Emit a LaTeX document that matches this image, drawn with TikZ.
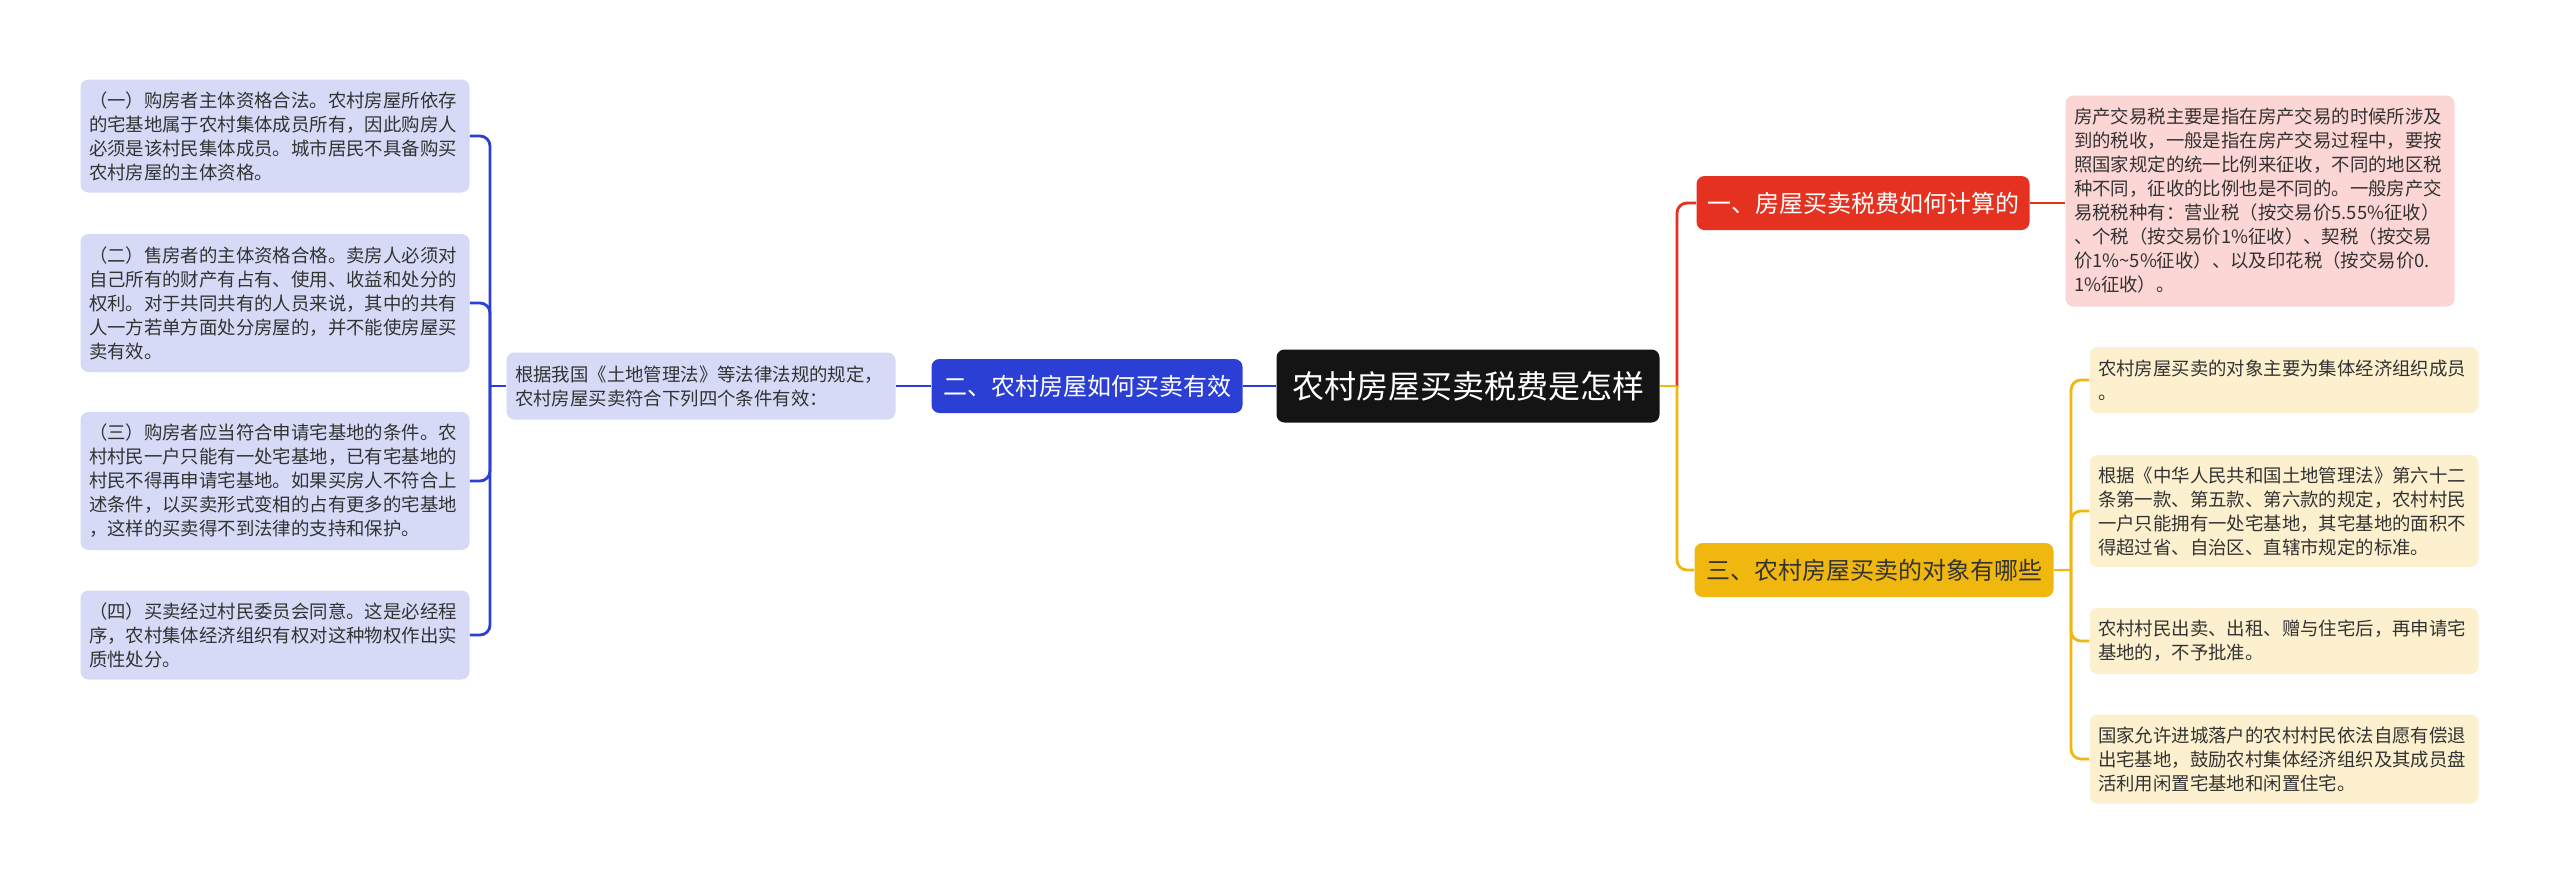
\documentclass[tikz,border=0pt]{standalone}
\usepackage{fontspec}
\setmainfont{Noto Sans CJK SC}

\definecolor{rootblack}{HTML}{141414}
\definecolor{topicblue}{HTML}{2B3FD4}
\definecolor{leafblue}{HTML}{D6DAF6}
\definecolor{topicred}{HTML}{E5311F}
\definecolor{leafred}{HTML}{FCD6D4}
\definecolor{topicyellow}{HTML}{F0B80F}
\definecolor{leafyellow}{HTML}{FDF0CE}
\definecolor{leaftext}{HTML}{333333}

\begin{document}
\begin{tikzpicture}[x=0.5pt, y=-0.5pt,
    box/.style={rounded corners=4pt, inner sep=0pt, align=center},
    topic/.style={box, text=white, minimum height=27pt, font=\fontsize{12pt}{14pt}\selectfont},
    leaf/.style={box, align=left, text=leaftext, inner xsep=4.25pt, text width=186pt, font=\fontsize{9.2pt}{12pt}\selectfont},
    link/.style={line width=1.4pt, rounded corners=5pt},
    bluelink/.style={link, draw=topicblue},
    redlink/.style={link, draw=topicred},
    yellowlink/.style={link, draw=topicyellow}]
    \useasboundingbox[fill=white] (0,0) rectangle (2560,885);

    % Root
    \node[box, fill=rootblack, text=white, minimum width=191.5pt, minimum height=36.5pt,
        font=\fontsize{16pt}{18pt}\selectfont] (root) at (1468,386) {农村房屋买卖税费是怎样};

    % Left branch
    \node[topic, fill=topicblue, minimum width=155.5pt] (two) at (1087,386) {二、农村房屋如何买卖有效};
    \node[leaf, fill=leafblue, minimum height=33.5pt] (basis) at (701,386) {根据我国《土地管理法》等法律法规的规定，\\农村房屋买卖符合下列四个条件有效：};
    \node[leaf, fill=leafblue, minimum height=56.5pt] (cond1) at (275,136) {（一）购房者主体资格合法。农村房屋所依存\\的宅基地属于农村集体成员所有，因此购房人\\必须是该村民集体成员。城市居民不具备购买\\农村房屋的主体资格。};
    \node[leaf, fill=leafblue, minimum height=69pt] (cond2) at (275,303) {（二）售房者的主体资格合格。卖房人必须对\\自己所有的财产有占有、使用、收益和处分的\\权利。对于共同共有的人员来说，其中的共有\\人一方若单方面处分房屋的，并不能使房屋买\\卖有效。};
    \node[leaf, fill=leafblue, minimum height=69pt] (cond3) at (275,481) {（三）购房者应当符合申请宅基地的条件。农\\村村民一户只能有一处宅基地，已有宅基地的\\村民不得再申请宅基地。如果买房人不符合上\\述条件，以买卖形式变相的占有更多的宅基地\\，这样的买卖得不到法律的支持和保护。};
    \node[leaf, fill=leafblue, minimum height=44.5pt] (cond4) at (275,635) {（四）买卖经过村民委员会同意。这是必经程\\序，农村集体经济组织有权对这种物权作出实\\质性处分。};

    % Right branches
    \node[topic, fill=topicred, minimum width=166.5pt] (one) at (1863,203) {一、房屋买卖税费如何计算的};
    \node[leaf, fill=leafred, minimum height=105.5pt] (tax) at (2260,201) {房产交易税主要是指在房产交易的时候所涉及\\到的税收，一般是指在房产交易过程中，要按\\照国家规定的统一比例来征收，不同的地区税\\种不同，征收的比例也是不同的。一般房产交\\易税税种有：营业税（按交易价5.55\%征收）\\、个税（按交易价1\%征收）、契税（按交易\\价1\%\textasciitilde5\%征收）、以及印花税（按交易价0.\\1\%征收）。};
    \node[topic, fill=topicyellow, text=leaftext, minimum width=179.5pt] (three) at (1874,570) {三、农村房屋买卖的对象有哪些};
    \node[leaf, fill=leafyellow, minimum height=33pt] (obj1) at (2284,380) {农村房屋买卖的对象主要为集体经济组织成员\\。};
    \node[leaf, fill=leafyellow, minimum height=56pt] (obj2) at (2284,511) {根据《中华人民共和国土地管理法》第六十二\\条第一款、第五款、第六款的规定，农村村民\\一户只能拥有一处宅基地，其宅基地的面积不\\得超过省、自治区、直辖市规定的标准。};
    \node[leaf, fill=leafyellow, minimum height=33pt] (obj3) at (2284,641) {农村村民出卖、出租、赠与住宅后，再申请宅\\基地的，不予批准。};
    \node[leaf, fill=leafyellow, minimum height=44.5pt] (obj4) at (2284,759) {国家允许进城落户的农村村民依法自愿有偿退\\出宅基地，鼓励农村集体经济组织及其成员盘\\活利用闲置宅基地和闲置住宅。};

    % Forks
    \coordinate (lfork) at (490,386);
    \coordinate (rfork) at (1677,386);
    \coordinate (yfork) at (2071,570);

    % Links
    \draw[bluelink] (root.west) -- (two.east);
    \draw[bluelink] (two.west) -- (basis.east);
    \draw[bluelink] (basis.west) -- (lfork);
    \foreach \n in {cond1,cond2,cond3,cond4}
        \draw[bluelink] (lfork) |- (\n.east);
    \draw[redlink] (rfork) |- (one.west);
    \draw[redlink] (one.east) -- (one.east -| tax.west);
    \draw[yellowlink] (root.east) -- (rfork);
    \draw[yellowlink] (rfork) |- (three.west);
    \draw[yellowlink] (three.east) -- (yfork);
    \foreach \n in {obj1,obj2,obj3,obj4}
        \draw[yellowlink] (yfork) |- (\n.west);
\end{tikzpicture}
\end{document}
